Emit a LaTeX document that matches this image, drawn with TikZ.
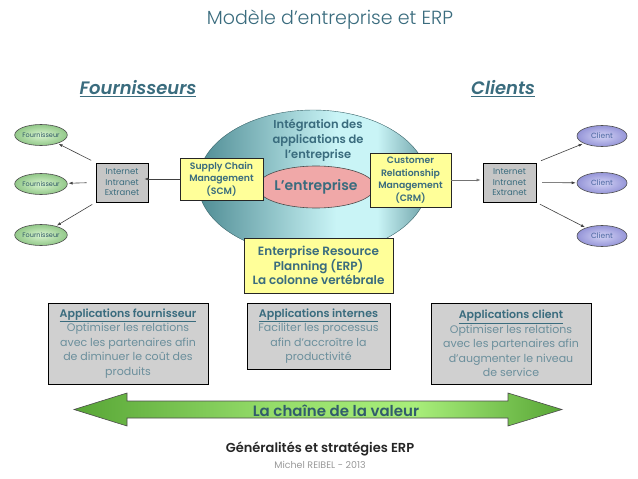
\documentclass[tikz,border=0pt]{standalone}
\usepackage{fontspec}
\setmainfont{Poppins}[BoldFont={Poppins SemiBold}, BoldItalicFont={Poppins SemiBold Italic}]
\newfontfamily\lightfont{Poppins Light}
\usetikzlibrary{arrows.meta, shapes.geometric, positioning}
\definecolor{Teal}  {HTML}{3A6C7E}
\definecolor{TealL} {HTML}{6B8F9C}
\definecolor{YelF}  {HTML}{FFFF99}
\definecolor{GrayF} {HTML}{D0D0D0}
\definecolor{GrayB} {HTML}{C6C6C6}
\definecolor{EllD}  {HTML}{4F8C94}
\definecolor{EllL}  {HTML}{C9F4F6}
\definecolor{PinkF} {HTML}{F0A8A8}
\definecolor{GrnL}  {HTML}{D9F4D0}
\definecolor{GrnD}  {HTML}{92C889}
\definecolor{LavL}  {HTML}{D4D4F5}
\definecolor{LavD}  {HTML}{9595D8}
\definecolor{CliT}  {HTML}{4A66A0}
\definecolor{ChnL}  {HTML}{A8EE7A}
\definecolor{ChnD}  {HTML}{58A636}
\definecolor{MGray} {HTML}{9A9A9A}
\newcommand\fsz[2]{\fontsize{#1}{#2}\selectfont}
\pgfdeclarehorizontalshading{bigell}{100bp}{color(0bp)=(EllD); color(25bp)=(EllD);
  color(55bp)=(EllL); color(64bp)=(EllL); color(75bp)=(EllD!85!white); color(100bp)=(EllD!85!white)}
\pgfdeclarehorizontalshading{chain}{100bp}{color(0bp)=(ChnD); color(25bp)=(ChnD);
  color(45bp)=(ChnL!75!ChnD); color(60bp)=(ChnL); color(75bp)=(ChnD); color(100bp)=(ChnD)}
\tikzset{
  ybox/.style={
    rectangle, draw=black!85, fill=YelF, text=Teal,
    align=center, inner sep=1pt, line width=0.8pt,
  },
  gbox/.style args={#1}{
    rectangle, draw=black, fill=#1,
    align=center, inner sep=1pt, line width=0.8pt,
  },
  pell/.style args={#1/#2/#3}{
    ellipse, draw=black!70, shade, shading=radial,
    inner color=#1, outer color=#2, text=#3,
    minimum width=50pt, minimum height=21pt, inner sep=0pt,
    line width=0.6pt,
  },
  arr/.style={
    -{Latex[length=4pt,width=3pt]},
    line width=0.6pt, black!75,
  },
}
\begin{document}
\begin{tikzpicture}[x=1pt,y=-1pt]
  \path[use as bounding box, fill=white] (0,0) rectangle (638,479);
  % titles
  \node[text=Teal, font=\fsz{19}{23}\lightfont] (title) at (330,20) {Modèle d’entreprise et ERP};
  \node[text=Teal, font=\fsz{18}{22}\bfseries\itshape] (fourn) at (138,89)
       {\underline{Fournisseurs}};
  \node[text=Teal, font=\fsz{18}{22}\bfseries\itshape] (clients) at (503,89)
       {\underline{Clients}};
  % enterprise
  \node[ellipse, draw=EllD!70!black, shade, shading=bigell, line width=0.4pt,
        minimum width=230pt, minimum height=145pt] (integ) at (313,182.5) {};
  \node[text=Teal, align=center, font=\fsz{11.5}{15}\bfseries] (integT) at (318,140)
       {Intégration des\\applications de\\l’entreprise};
  \node[ellipse, draw=black!70, fill=PinkF, text=Teal, line width=0.6pt,
        minimum width=94pt, minimum height=42pt, inner sep=0pt,
        font=\fsz{14}{16}\bfseries] (ent) at (316,187) {L’entreprise};
  \node[ybox, minimum width=83pt, minimum height=42pt, font=\fsz{9.3}{12.5}\bfseries]
       (scm) at (221.5,179) {Supply Chain\\Management\\(SCM)};
  \node[ybox, minimum width=81pt, minimum height=54pt, font=\fsz{9.3}{12.5}\bfseries]
       (crm) at (410.5,180) {Customer\\Relationship\\Management\\(CRM)};
  \node[ybox, minimum width=149pt, minimum height=55pt, font=\fsz{12}{14.5}\bfseries]
       (erp) at (318.5,265.5) {Enterprise Resource\\Planning (ERP)\\La colonne vertébrale};
  % networks
  \node[gbox=GrayB, minimum width=52pt, minimum height=39pt, text=Teal,
        font=\fsz{8.5}{10.5}] (intF) at (122,182.5) {Internet\\Intranet\\Extranet};
  \node[gbox=GrayB, minimum width=53pt, minimum height=39pt, text=Teal,
        font=\fsz{8.5}{10.5}] (intC) at (509.5,182.5) {Internet\\Intranet\\Extranet};
  \foreach \i/\y in {1/135, 2/184, 3/235}{
    \node[pell=GrnL/GrnD/Teal!80!black, font=\fsz{6.5}{8}] (f\i) at (41,\y) {Fournisseur};
  }
  \foreach \i/\y in {1/136, 2/183, 3/236}{
    \node[pell=LavL/LavD/CliT, font=\fsz{7.5}{9}] (c\i) at (602,\y) {Client};
  }
  \draw[arr] (scm.west) -- ([xshift=-4pt]scm.west -| intF.east);
  \draw[arr, black!55] (crm.east) -- ([xshift=-2pt]crm.east -| intC.west);
  \foreach \a/\f/\s in {north west/f1/5pt, west/f2/9pt, south west/f3/4pt}{
    \draw[arr, shorten <=\s, shorten >=1pt] (intF.\a) -- (\f);
  }
  \foreach \a/\c/\s in {north east/c1/5pt, east/c2/6pt, south east/c3/4pt}{
    \draw[arr, shorten <=\s, shorten >=1pt] (intC.\a) -- (\c);
  }
  % applications
  \node[gbox=GrayF, minimum width=160pt, minimum height=81pt, text=TealL,
        font=\fsz{11}{14.5}] (appF) at (128,343.5)
       {\textcolor{Teal}{\bfseries\underline{Applications fournisseur}}\\Optimiser les relations\\
        avec les partenaires afin\\de diminuer le coût des\\produits};
  \node[gbox=GrayF, minimum width=143pt, minimum height=66pt, text=TealL,
        font=\fsz{11}{14.5}] (appI) at (318.5,336)
       {\textcolor{Teal}{\bfseries\underline{Applications internes}}\\Faciliter les processus\\
        afin d’accroître la\\productivité};
  \node[gbox=GrayF, minimum width=160pt, minimum height=81pt, text=TealL,
        font=\fsz{11}{14.5}] (appC) at (511,343.5)
       {\textcolor{Teal}{\bfseries\underline{Applications client}}\\Optimiser les relations\\
        avec les partenaires afin\\d’augmenter le niveau\\de service};
  % value chain
  \path[draw=black!70, shade, shading=chain, line width=0.6pt]
    (74,409.5) -- (127,393) -- (127,401) -- (508,401) -- (508,393) -- (562,409.5)
    -- (508,426) -- (508,418) -- (127,418) -- (127,426) -- cycle;
  \node[text=Teal!85!black, font=\fsz{15}{18}\bfseries] (chainT) at (336,410.5)
       {La chaîne de la valeur};
  \node[text=black!85, font=\fsz{13}{15}\bfseries] (foot) at (320,449)
       {Généralités et stratégies ERP};
  \node[text=MGray, font=\fsz{9.5}{11}, below=0pt of foot, inner sep=1pt] (author)
       {Michel REIBEL - 2013};
\end{tikzpicture}
\end{document}
